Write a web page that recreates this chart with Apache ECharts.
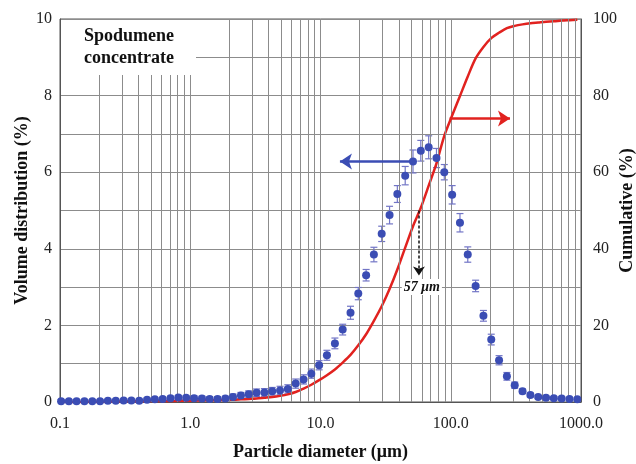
<!DOCTYPE html>
<html>
<head>
<meta charset="utf-8">
<script src="https://cdn.jsdelivr.net/npm/echarts@6/dist/echarts.min.js"></script>
<style>html,body{margin:0;padding:0;background:#fff}#c{width:636px;height:464px}</style>
</head>
<body>
<div id="c"></div>
<script>
// Particle diameters (µm) of the measured bins
const diameters = [0.102, 0.117, 0.134, 0.154, 0.177, 0.203, 0.233, 0.268, 0.308, 0.353,
  0.406, 0.466, 0.535, 0.614, 0.705, 0.810, 0.930, 1.07, 1.23, 1.41,
  1.62, 1.86, 2.13, 2.45, 2.81, 3.23, 3.71, 4.26, 4.89, 5.61,
  6.45, 7.41, 8.50, 9.76, 11.2, 12.9, 14.8, 17.0, 19.5, 22.4,
  25.7, 29.5, 33.9, 38.9, 44.7, 51.3, 58.9, 67.7, 77.7, 89.2,
  102.5, 117.7, 135.1, 155.2, 178.2, 204.6, 234.9, 269.8, 309.8, 355.7,
  408.6, 469.2, 538.8, 618.7, 710.4, 815.8, 936.8];
// Volume distribution (%)
const volume = [0.02, 0.02, 0.02, 0.02, 0.02, 0.02, 0.03, 0.03, 0.04, 0.04,
  0.03, 0.06, 0.07, 0.08, 0.10, 0.12, 0.11, 0.10, 0.09, 0.08,
  0.08, 0.09, 0.13, 0.17, 0.20, 0.24, 0.25, 0.28, 0.30, 0.34,
  0.48, 0.59, 0.74, 0.96, 1.22, 1.53, 1.89, 2.33, 2.83, 3.31,
  3.85, 4.39, 4.88, 5.43, 5.91, 6.28, 6.56, 6.65, 6.37, 6.00,
  5.41, 4.68, 3.85, 3.03, 2.25, 1.63, 1.09, 0.67, 0.44, 0.28,
  0.18, 0.13, 0.11, 0.10, 0.09, 0.08, 0.07];
// Error (± %)
const volumeErr = [0.04, 0.04, 0.04, 0.04, 0.04, 0.04, 0.04, 0.04, 0.04, 0.04,
  0.04, 0.04, 0.04, 0.04, 0.05, 0.05, 0.05, 0.06, 0.06, 0.06,
  0.06, 0.06, 0.08, 0.08, 0.09, 0.10, 0.10, 0.10, 0.11, 0.11,
  0.12, 0.12, 0.12, 0.12, 0.13, 0.14, 0.14, 0.17, 0.16, 0.15,
  0.19, 0.20, 0.23, 0.22, 0.24, 0.30, 0.27, 0.30, 0.25, 0.20,
  0.24, 0.24, 0.20, 0.15, 0.14, 0.14, 0.12, 0.10, 0.08, 0.06,
  0.05, 0.04, 0.04, 0.04, 0.04, 0.04, 0.04];
// Cumulative (%)
const cumulative = [0, 0.01, 0.02, 0.03, 0.05, 0.07, 0.10, 0.12, 0.15, 0.18,
  0.20, 0.22, 0.24, 0.26, 0.28, 0.30, 0.33, 0.35, 0.40, 0.45,
  0.50, 0.55, 0.60, 0.70, 0.80, 0.90, 1.1, 1.3, 1.6, 2.0,
  2.6, 3.5, 4.5, 5.7, 7.0, 8.5, 10.3, 12.3, 14.8, 17.7,
  21.2, 25.0, 29.5, 34.6, 40.3, 45.9, 50.7, 56.5, 62.3, 69.5,
  74.8, 79.9, 85.0, 89.7, 92.7, 95.0, 96.4, 97.6, 98.2, 98.6,
  98.9, 99.1, 99.3, 99.4, 99.6, 99.7, 99.8];
const xTickLabels = {0.1: '0.1', 1: '1.0', 10: '10.0', 100: '100.0', 1000: '1000.0'};
const leftTicks = [0, 2, 4, 6, 8, 10];
const decades = [0.1, 1, 10, 100];
const minorFactors = [2, 3, 4, 5, 6, 7, 8, 9];
const d50 = 57;
const d50Label = '57 μm';
const annotationTitle = 'Spodumene\nconcentrate';

const FONT = '"Liberation Serif", "Times New Roman", serif';
const BLUE = '#3b4db4';
const ERR = '#7275c6';
const RED = '#e1221f';

const minorLines = [];
decades.forEach(d => minorFactors.forEach(f => minorLines.push({xAxis: +(d * f).toPrecision(6)})));

const scatterData = diameters.map((d, i) => [d, volume[i]]);
const errData = diameters.map((d, i) => [d, volume[i], volumeErr[i]]);
const cumData = diameters.map((d, i) => [d, cumulative[i]]);

const chart = echarts.init(document.getElementById('c'), null, {renderer: 'canvas'});
chart.setOption({
  animation: false,
  backgroundColor: '#fff',
  grid: {left: 60, right: 55, top: 19, bottom: 62, show: true, borderColor: '#555', borderWidth: 1, containLabel: false, outerBoundsMode: 'none'},
  xAxis: {
    type: 'log', logBase: 10, min: 0.1, max: 1000,
    name: 'Particle diameter (μm)', nameLocation: 'middle', nameGap: 41, nameMoveOverlap: false,
    nameTextStyle: {fontFamily: FONT, fontWeight: 'bold', fontSize: 18, color: '#111'},
    axisLine: {show: true, lineStyle: {color: '#555'}},
    axisTick: {show: false},
    axisLabel: {fontFamily: FONT, fontSize: 16, color: '#222', margin: 14,
      formatter: v => { const k = Object.keys(xTickLabels).find(t => Math.abs(Math.log10(+t) - Math.log10(v)) < 1e-6); return k ? xTickLabels[k] : ''; }},
    splitLine: {show: true, lineStyle: {color: '#8c8c8c', width: 1}}
  },
  yAxis: [{
    type: 'value', min: 0, max: 10, interval: 1,
    name: 'Volume distribution (%)', nameLocation: 'middle', nameGap: 29, nameMoveOverlap: false,
    nameTextStyle: {fontFamily: FONT, fontWeight: 'bold', fontSize: 18, color: '#111'},
    axisLine: {show: true, lineStyle: {color: '#555'}},
    axisTick: {show: false},
    axisLabel: {fontFamily: FONT, fontSize: 16, color: '#222', margin: 8,
      formatter: v => leftTicks.includes(v) ? String(v) : ''},
    splitLine: {show: true, lineStyle: {color: '#8c8c8c', width: 1}}
  }, {
    type: 'value', min: 0, max: 100, interval: 20,
    name: 'Cumulative (%)', nameLocation: 'middle', nameGap: 37, nameRotate: 90, nameMoveOverlap: false,
    nameTextStyle: {fontFamily: FONT, fontWeight: 'bold', fontSize: 18, color: '#111'},
    axisLine: {show: true, lineStyle: {color: '#555'}},
    axisTick: {show: false},
    axisLabel: {fontFamily: FONT, fontSize: 16, color: '#222', margin: 12},
    splitLine: {show: false}
  }],
  series: [
    {
      type: 'line', data: [], silent: true, z: 0,
      markLine: {silent: true, symbol: ['none', 'none'], label: {show: false},
        lineStyle: {color: '#8c8c8c', width: 1, type: 'solid'}, data: minorLines}
    },
    {
      type: 'custom', z: 3, data: errData, encode: {x: 0, y: 1},
      renderItem: (params, api) => {
        const x = api.value(0), y = api.value(1), e = api.value(2);
        const t = api.coord([x, y + e]);
        const b = api.coord([x, Math.max(y - e, 0)]);
        const w = 3.5;
        const st = {stroke: ERR, lineWidth: 1.2};
        return {type: 'group', children: [
          {type: 'line', shape: {x1: t[0], y1: t[1], x2: b[0], y2: b[1]}, style: st},
          {type: 'line', shape: {x1: t[0] - w, y1: t[1], x2: t[0] + w, y2: t[1]}, style: st},
          {type: 'line', shape: {x1: b[0] - w, y1: b[1], x2: b[0] + w, y2: b[1]}, style: st}
        ]};
      }
    },
    {
      type: 'line', yAxisIndex: 1, data: cumData, smooth: 0.3, showSymbol: false, z: 4,
      lineStyle: {color: RED, width: 2.5},
      markLine: {
        silent: true, label: {show: false},
        data: [
          [{coord: [98, 74], symbol: 'none', lineStyle: {color: RED, width: 2.5, type: 'solid'}},
           {coord: [285, 74], symbol: 'arrow', symbolSize: 12}],
          [{coord: [d50, 50], symbol: 'none', lineStyle: {color: '#111', width: 1.5, type: [3, 2]}},
           {coord: [d50, 33], symbol: 'arrow', symbolSize: 9}]
        ]
      },
      markPoint: {
        silent: true, symbol: 'rect', symbolSize: 0,
        data: [{coord: [60, 30], label: {show: true, formatter: d50Label, fontFamily: FONT, fontStyle: 'italic', fontWeight: 'bold', fontSize: 14, color: '#111', backgroundColor: '#fff', padding: [1, 2], position: 'inside'}}]
      }
    },
    {
      type: 'scatter', data: scatterData, symbolSize: 8, z: 5,
      itemStyle: {color: BLUE, opacity: 1},
      markLine: {
        silent: true, label: {show: false},
        data: [[{coord: [51.3, 6.28], symbol: 'none', lineStyle: {color: BLUE, width: 2.5, type: 'solid'}},
                {coord: [14.1, 6.28], symbol: 'arrow', symbolSize: 12}]]
      }
    }
  ],
  graphic: [
    {type: 'rect', z: 100, shape: {x: 61, y: 20, width: 135, height: 55}, style: {fill: '#fff'}},
    {type: 'text', z: 101, x: 129, y: 47, style: {text: annotationTitle, fontFamily: FONT, fontWeight: 'bold', fontSize: 18, lineHeight: 22, fill: '#111', align: 'center', verticalAlign: 'middle'}}
  ]
});
</script>
</body>
</html>
